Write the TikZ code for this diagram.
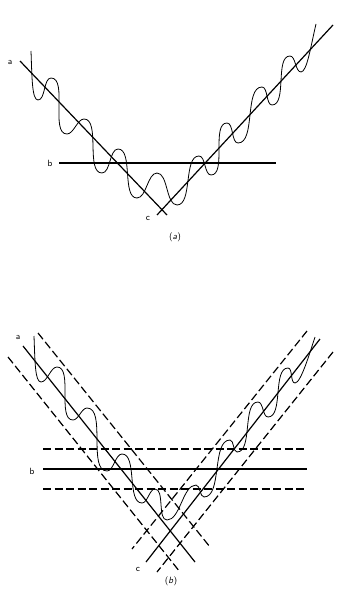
\documentclass[tikz,border=0pt]{standalone}
\begin{document}
\begin{tikzpicture}[x=1pt, y=-1pt,
    trend/.style={line width=1.2pt},
    band/.style={line width=1.2pt, dash pattern=on 8pt off 3.5pt},
    wave/.style={line width=0.8pt, line join=round},
    wig/.style={out=0, in=180, looseness=0.75},
    lab/.style={font=\sffamily\small, inner sep=0pt}]
    \useasboundingbox (0,0) rectangle (339,594);

    % (a) the wavy curve with its three straight fits
    \draw[wave] (31,51) .. controls (32,78) and (32,100) .. (38,100)
        to[wig] (51,78) to[wig] (67,134) to[wig] (84,119) to[wig] (102,173)
        to[wig] (118,149) to[wig] (137,198) to[wig] (157,173) to[wig] (177,205)
        to[wig] (199,156) to[wig] (211,175) to[wig] (227,123) to[wig] (238,143)
        to[wig] (262,87) to[wig] (272,105) to[wig] (290,56) to[wig] (301,72)
        .. controls (307,72) and (311,45) .. (316,24);
    \draw[trend] (20,61) -- (167,215);
    \draw[trend] (157,215) -- (333,25);
    \draw[trend] (59,163) -- (276,163);

    \node[lab] (la) at (10,62) {a};
    \node[lab] (lb) at (50,163) {b};
    \node[lab] (lc) at (148,218) {c};
    \node[lab] (capa) at (175,237) {(\textit{a})};

    % (b) same curve, fits with dashed bands
    \draw[wave] (34,336) .. controls (35,362) and (35,382) .. (41,382)
        to[wig] (57,367) to[wig] (73,420) to[wig] (87,408) to[wig] (107,471)
        to[wig] (122,454) to[wig] (142,503) to[wig] (155,489) to[wig] (167,520)
        to[wig] (196,485) to[wig] (204,497) to[wig] (230,440) to[wig] (237,452)
        to[wig] (258,402) to[wig] (268,417) to[wig] (288,368) to[wig] (295,383)
        .. controls (301,383) and (310,352) .. (315,337);

    \draw[band]  (8,357) -- (180,572);
    \draw[trend] (23,346) -- (195,562);
    \draw[band]  (38,333) -- (210,547);

    \draw[band]  (307,331) -- (132,549);
    \draw[trend] (320,339) -- (146,562);
    \draw[band]  (333,352) -- (157,572);

    \draw[band]  (43,449) -- (307,449);
    \draw[trend] (43,469) -- (307,469);
    \draw[band]  (43,489) -- (307,489);

    \node[lab] (ma) at (18,337) {a};
    \node[lab] (mb) at (32,471) {b};
    \node[lab] (mc) at (138,569) {c};
    \node[lab] (capb) at (171,581) {(\textit{b})};
\end{tikzpicture}
\end{document}
